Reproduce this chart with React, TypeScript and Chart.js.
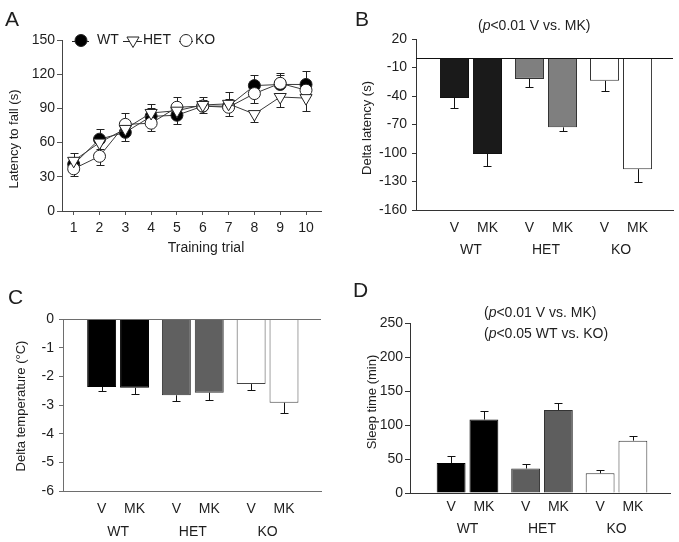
import React, { useEffect, useRef } from "react";
import { Chart, registerables } from "chart.js";
Chart.register(...registerables);

const FONT = "'Liberation Sans', Arial, Helvetica, sans-serif";
const TEXT = "#1e1e1e";

// ---------- Panel A: latency to fall over training trials ----------
const trials = [1, 2, 3, 4, 5, 6, 7, 8, 9, 10];
const latencyTicks = [0, 30, 60, 90, 120, 150];
const wtLatency = [41, 63, 69, 83, 84, 92, 92, 110, 111, 111];
const wtLatencyErr = [10, 9, -8, 11, -8, 5, 6, 9, 8, 12]; // sign: side the bar is drawn on
const hetLatency = [44, 60, 72, 86, 88, 93, 94, 85, 100, 99];
const hetLatencyErr = [-6, -6, 7, 4, 6, -7, 10, -7, -9, -11];
const koLatency = [37, 48, 76, 77, 91, 92, 91, 103, 112, 106];
const koLatencyErr = [-6, -8, 10, -7, 9, 8, -8, -8, 9, 8];

// ---------- Shared categories for B, C, D ----------
const genotypes = ["WT", "HET", "KO"];
const treatments = ["V", "MK"];

// ---------- Panel B: delta latency ----------
const deltaLatencyV = [-42, -22, -24];
const deltaLatencyVErr = [11, 9, 11];
const deltaLatencyMK = [-101, -73, -117];
const deltaLatencyMKErr = [13, 4, 13];

// ---------- Panel C: delta temperature ----------
const deltaTempV = [-2.37, -2.66, -2.27];
const deltaTempVErr = [0.15, 0.2, 0.2];
const deltaTempMK = [-2.4, -2.57, -2.92];
const deltaTempMKErr = [0.2, 0.25, 0.35];

// ---------- Panel D: sleep time ----------
const sleepV = [44, 36, 29];
const sleepVErr = [11, 7, 5];
const sleepMK = [108, 122, 77];
const sleepMKErr = [13, 11, 7];

type Part = [string, boolean];
type Header = { parts: Part[]; x: number; y: number };
type Decor = {
  letter: string; letterX: number; letterY: number;
  yTitle: string; yTitleX: number; yTitleY: number;
  xTitle?: string; xTitleX?: number; xTitleY?: number;
  headers?: Header[];
};

function drawRich(ctx: CanvasRenderingContext2D, parts: Part[], x: number, y: number, size: number) {
  let cx = x;
  ctx.textAlign = "left";
  for (const [t, it] of parts) {
    ctx.font = `${it ? "italic " : ""}${size}px ${FONT}`;
    ctx.fillText(t, cx, y);
    cx += ctx.measureText(t).width;
  }
}

function decorPlugin(d: Decor) {
  return {
    id: "decor",
    afterDraw(chart: any) {
      const ctx: CanvasRenderingContext2D = chart.ctx;
      ctx.save();
      ctx.fillStyle = TEXT;
      ctx.textBaseline = "middle";
      ctx.font = `21px ${FONT}`;
      ctx.textAlign = "left";
      ctx.fillText(d.letter, d.letterX, d.letterY);
      ctx.save();
      ctx.translate(d.yTitleX, d.yTitleY);
      ctx.rotate(-Math.PI / 2);
      ctx.textAlign = "center";
      ctx.font = `13px ${FONT}`;
      ctx.fillText(d.yTitle, 0, 0);
      ctx.restore();
      if (d.xTitle) {
        ctx.textAlign = "center";
        ctx.font = `14px ${FONT}`;
        ctx.fillText(d.xTitle, d.xTitleX!, d.xTitleY!);
      }
      for (const h of d.headers || []) drawRich(ctx, h.parts, h.x, h.y, 14);
      ctx.restore();
    },
  };
}

type Area = { left: number; top: number; right: number; bottom: number };

// ---------------- Panel A ----------------
function makeA() {
  const W = 340, H = 271;
  const area: Area = { left: 62, top: 40, right: 321, bottom: 211 };
  const lineColor = "#3a3a3a";
  const series = [
    { label: "HET", values: hetLatency, errs: hetLatencyErr, style: "triangle", fill: "#ffffff" },
    { label: "KO", values: koLatency, errs: koLatencyErr, style: "circle", fill: "#ffffff" },
    { label: "WT", values: wtLatency, errs: wtLatencyErr, style: "circle", fill: "#000000" },
  ];
  const errPlugin = {
    id: "errA",
    beforeDatasetsDraw(chart: any) {
      const ctx = chart.ctx;
      const ys = chart.scales.y;
      ctx.save();
      ctx.strokeStyle = "#222";
      ctx.lineWidth = 1;
      series.forEach((s, di) => {
        const meta = chart.getDatasetMeta(di);
        meta.data.forEach((el: any, i: number) => {
          const y2 = ys.getPixelForValue(s.values[i] + s.errs[i]);
          const x = Math.round(el.x) + 0.5;
          ctx.beginPath();
          ctx.moveTo(x, el.y);
          ctx.lineTo(x, Math.round(y2) + 0.5);
          ctx.moveTo(x - 4, Math.round(y2) + 0.5);
          ctx.lineTo(x + 4, Math.round(y2) + 0.5);
          ctx.stroke();
        });
      });
      ctx.restore();
    },
  };
  const legendItems = [
    { label: "WT", fill: "#000", style: "circle", mx: 81, l1: 72, l2: 89, tx: 97 },
    { label: "HET", fill: "#fff", style: "triangle", mx: 133, l1: 123, l2: 142, tx: 143 },
    { label: "KO", fill: "#fff", style: "circle", mx: 186, l1: 179, l2: 193, tx: 195 },
  ];
  const legendPlugin = {
    id: "legendA",
    afterDraw(chart: any) {
      const ctx: CanvasRenderingContext2D = chart.ctx;
      const y = chart.chartArea.top + 0.5;
      ctx.save();
      for (const it of legendItems) {
        ctx.strokeStyle = "#222";
        ctx.lineWidth = 1;
        ctx.beginPath();
        ctx.moveTo(it.l1, Math.round(y) + 0.5);
        ctx.lineTo(it.l2, Math.round(y) + 0.5);
        ctx.stroke();
        ctx.fillStyle = it.fill;
        ctx.beginPath();
        if (it.style === "circle") {
          ctx.arc(it.mx, y, 6, 0, Math.PI * 2);
        } else {
          const r = 7;
          ctx.moveTo(it.mx, y + r);
          ctx.lineTo(it.mx - r * 0.866, y - r * 0.5);
          ctx.lineTo(it.mx + r * 0.866, y - r * 0.5);
          ctx.closePath();
        }
        ctx.fill();
        ctx.stroke();
        ctx.fillStyle = TEXT;
        ctx.font = `14px ${FONT}`;
        ctx.textAlign = "left";
        ctx.textBaseline = "middle";
        ctx.fillText(it.label, it.tx, y);
      }
      ctx.restore();
    },
  };
  return {
    type: "line",
    data: {
      datasets: series.map((s) => ({
        label: s.label,
        data: trials.map((t, i) => ({ x: t, y: s.values[i] })),
        borderColor: lineColor,
        borderWidth: 1,
        tension: 0,
        pointStyle: s.style,
        rotation: s.style === "triangle" ? 180 : 0,
        pointRadius: s.style === "triangle" ? 7 : 6,
        pointBackgroundColor: s.fill,
        pointBorderColor: "#222",
        pointBorderWidth: 1,
        pointHoverRadius: 6,
      })),
    },
    options: {
      responsive: false,
      animation: false,
      events: [],
      layout: { padding: { left: 0, top: area.top, right: W - area.right, bottom: 0 } },
      plugins: { legend: { display: false }, tooltip: { enabled: false }, title: { display: false } },
      scales: {
        x: {
          type: "linear",
          offset: false,
          min: 0.547,
          max: 10.58,
          afterBuildTicks: (s: any) => { s.ticks = trials.map((v) => ({ value: v })); },
          afterFit: (s: any) => { s.height = H - area.bottom; },
          ticks: { font: { family: FONT, size: 14 }, color: TEXT, padding: 5, maxRotation: 0, autoSkip: false },
          grid: { drawOnChartArea: false, drawTicks: true, tickLength: 4, color: "#555" },
          border: { color: "#444", width: 1 },
        },
        y: {
          min: 0,
          max: 150,
          afterBuildTicks: (s: any) => { s.ticks = latencyTicks.map((v) => ({ value: v })); },
          afterFit: (s: any) => { s.width = area.left; },
          ticks: { font: { family: FONT, size: 14 }, color: TEXT, padding: 2 },
          grid: { drawOnChartArea: false, drawTicks: true, tickLength: 5, color: "#555" },
          border: { color: "#444", width: 1 },
        },
      },
    },
    plugins: [
      errPlugin,
      legendPlugin,
      decorPlugin({
        letter: "A", letterX: 5, letterY: 20,
        yTitle: "Latency to fall (s)", yTitleX: 14, yTitleY: 139,
        xTitle: "Training trial", xTitleX: 206, xTitleY: 248,
      }),
    ],
  };
}

// ---------------- Bar panels ----------------
type BarOpts = {
  W: number; H: number; area: Area;
  v: number[]; vErr: number[]; mk: number[]; mkErr: number[];
  colors: string[]; borders: string[];
  yMin: number; yMax: number; yStep: number; xMin: number; xMax: number;
  axisColor: string; zeroColor?: string;
  tickLen: number; tickPad: number;
  labelDy1: number; labelDy2: number;
  decor: Decor;
};

function makeBar(o: BarOpts) {
  const values = [o.v, o.mk];
  const errs = [o.vErr, o.mkErr];
  const errPlugin = {
    id: "errBar",
    afterDatasetsDraw(chart: any) {
      const ctx = chart.ctx;
      const ys = chart.scales.y;
      ctx.save();
      ctx.strokeStyle = "#111";
      ctx.lineWidth = 1;
      values.forEach((vals, di) => {
        const meta = chart.getDatasetMeta(di);
        meta.data.forEach((el: any, i: number) => {
          const v = vals[i];
          const e = errs[di][i] * (v < 0 ? -1 : 1);
          const y2 = Math.round(ys.getPixelForValue(v + e)) + 0.5;
          const x = Math.round(el.x) + 0.5;
          ctx.beginPath();
          ctx.moveTo(x, el.y);
          ctx.lineTo(x, y2);
          ctx.moveTo(x - 4, y2);
          ctx.lineTo(x + 4, y2);
          ctx.stroke();
        });
      });
      // zero line drawn over the bars
      if (o.zeroColor) {
        const y = Math.round(ys.getPixelForValue(0)) + 0.5;
        ctx.strokeStyle = o.zeroColor;
        ctx.beginPath();
        ctx.moveTo(chart.chartArea.left, y);
        ctx.lineTo(chart.chartArea.right, y);
        ctx.stroke();
      }
      ctx.restore();
    },
  };
  const labelPlugin = {
    id: "barLabels",
    afterDraw(chart: any) {
      const ctx: CanvasRenderingContext2D = chart.ctx;
      const b = chart.chartArea.bottom;
      ctx.save();
      ctx.fillStyle = TEXT;
      ctx.font = `14px ${FONT}`;
      ctx.textAlign = "center";
      ctx.textBaseline = "middle";
      const m0 = chart.getDatasetMeta(0).data;
      const m1 = chart.getDatasetMeta(1).data;
      genotypes.forEach((g, i) => {
        ctx.fillText(treatments[0], m0[i].x, b + o.labelDy1);
        ctx.fillText(treatments[1], m1[i].x, b + o.labelDy1);
        ctx.fillText(g, (m0[i].x + m1[i].x) / 2, b + o.labelDy2);
      });
      ctx.restore();
    },
  };
  return {
    type: "bar",
    data: {
      datasets: treatments.map((t, di) => ({
        label: t,
        data: genotypes.map((_, i) => ({ x: i, y: values[di][i] })),
        backgroundColor: o.colors,
        borderColor: o.borders,
        borderWidth: 1,
        categoryPercentage: 0.88,
        barPercentage: 0.88,
      })),
    },
    options: {
      responsive: false,
      animation: false,
      events: [],
      layout: { padding: { left: 0, top: o.area.top, right: o.W - o.area.right, bottom: 0 } },
      plugins: { legend: { display: false }, tooltip: { enabled: false }, title: { display: false } },
      scales: {
        x: {
          type: "linear",
          offset: false,
          min: o.xMin,
          max: o.xMax,
          afterBuildTicks: (s: any) => { s.ticks = genotypes.map((_, i) => ({ value: i })); },
          afterFit: (s: any) => { s.height = o.H - o.area.bottom; },
          ticks: { display: false },
          grid: { offset: false, drawOnChartArea: false, drawTicks: false, color: o.axisColor },
          border: { display: true, color: o.axisColor, width: 1 },
        },
        y: {
          min: o.yMin,
          max: o.yMax,
          ticks: { stepSize: o.yStep, font: { family: FONT, size: 14 }, color: TEXT, padding: o.tickPad },
          afterFit: (s: any) => { s.width = o.area.left; },
          grid: { drawOnChartArea: false, drawTicks: true, tickLength: o.tickLen, color: o.axisColor },
          border: { display: true, color: o.axisColor, width: 1 },
        },
      },
    },
    plugins: [errPlugin, labelPlugin, decorPlugin(o.decor)],
  };
}

function makeB() {
  return makeBar({
    W: 339, H: 271, area: { left: 76, top: 39, right: 333, bottom: 210 },
    v: deltaLatencyV, vErr: deltaLatencyVErr, mk: deltaLatencyMK, mkErr: deltaLatencyMKErr,
    colors: ["#1a1a1a", "#7f7f7f", "#ffffff"], borders: ["#111", "#333", "#333"],
    yMin: -160, yMax: 20, yStep: 30, xMin: -0.733, xMax: 2.693,
    axisColor: "#333", zeroColor: "#111", tickLen: 4, tickPad: 5,
    labelDy1: 18, labelDy2: 40,
    decor: {
      letter: "B", letterX: 15, letterY: 20,
      yTitle: "Delta latency (s)", yTitleX: 27, yTitleY: 128,
      headers: [{ parts: [["(", false], ["p", true], ["<0.01 V vs. MK)", false]], x: 138, y: 26 }],
    },
  });
}

function makeC() {
  return makeBar({
    W: 340, H: 271, area: { left: 63, top: 48, right: 321, bottom: 220 },
    v: deltaTempV, vErr: deltaTempVErr, mk: deltaTempMK, mkErr: deltaTempMKErr,
    colors: ["#000000", "#606060", "#ffffff"], borders: ["#000", "#333", "#444"],
    yMin: -6, yMax: 0, yStep: 1, xMin: -0.737, xMax: 2.715,
    axisColor: "#6e6e6e", zeroColor: "#6e6e6e", tickLen: 4, tickPad: 5,
    labelDy1: 18, labelDy2: 41,
    decor: {
      letter: "C", letterX: 8, letterY: 27,
      yTitle: "Delta temperature (°C)", yTitleX: 21, yTitleY: 135,
    },
  });
}

function makeD() {
  return makeBar({
    W: 339, H: 271, area: { left: 70, top: 52, right: 330, bottom: 222 },
    v: sleepV, vErr: sleepVErr, mk: sleepMK, mkErr: sleepMKErr,
    colors: ["#000000", "#5e5e5e", "#ffffff"], borders: ["#000", "#333", "#333"],
    yMin: 0, yMax: 250, yStep: 50, xMin: -0.772, xMax: 2.718,
    axisColor: "#333", tickLen: 5, tickPad: 2,
    labelDy1: 14, labelDy2: 36,
    decor: {
      letter: "D", letterX: 13, letterY: 20,
      yTitle: "Sleep time (min)", yTitleX: 32, yTitleY: 131,
      headers: [
        { parts: [["(", false], ["p", true], ["<0.01 V vs. MK)", false]], x: 144, y: 42 },
        { parts: [["(", false], ["p", true], ["<0.05 WT vs. KO)", false]], x: 144, y: 63 },
      ],
    },
  });
}

function Panel(props: { left: number; top: number; width: number; height: number; make: () => any }) {
  const ref = useRef<HTMLCanvasElement>(null);
  useEffect(() => {
    const chart = new Chart(ref.current as HTMLCanvasElement, props.make());
    return () => chart.destroy();
  }, []);
  return (
    <canvas
      ref={ref}
      width={props.width}
      height={props.height}
      style={{ position: "absolute", left: props.left, top: props.top, width: props.width, height: props.height }}
    />
  );
}

export default function App() {
  return (
    <div style={{ position: "absolute", left: 0, top: 0, width: 679, height: 542, background: "#ffffff" }}>
      <Panel left={0} top={0} width={340} height={271} make={makeA} />
      <Panel left={340} top={0} width={339} height={271} make={makeB} />
      <Panel left={0} top={271} width={340} height={271} make={makeC} />
      <Panel left={340} top={271} width={339} height={271} make={makeD} />
    </div>
  );
}
